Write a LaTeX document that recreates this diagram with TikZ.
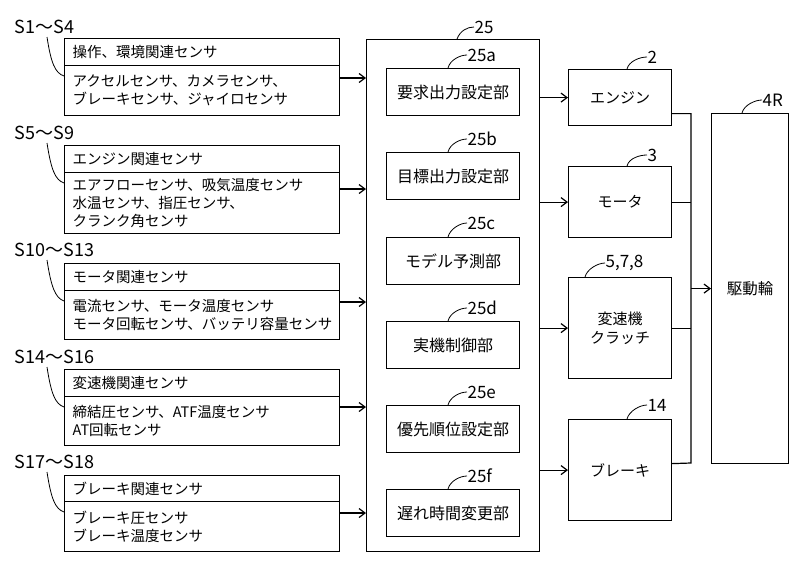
\documentclass[tikz,border=0pt]{standalone}
\usepackage{fontspec}
\setmainfont{Noto Sans CJK JP}
\usetikzlibrary{arrows.meta}
\begin{document}
\begin{tikzpicture}[x=1pt,y=-1pt,line width=1.2pt,
  box/.style={draw,rectangle,inner sep=0pt,anchor=north west},
  sbox/.style={box,minimum width=275pt,text width=259pt,align=left,font=\fontsize{14.5}{18}\selectfont},
  ibox/.style={box,minimum width=133pt,minimum height=47pt,font=\fontsize{16}{19}\selectfont},
  rbox/.style={box,minimum width=103pt,align=center,font=\fontsize{15}{19}\selectfont},
  lab/.style={inner sep=0pt,anchor=west,font=\fontsize{17}{20}\selectfont},
  slab/.style={inner sep=0pt,anchor=west,font=\fontsize{18}{21}\selectfont},
  lead/.style={line width=0.8pt},
  arr/.style={-{Straight Barb[length=6pt,width=9pt]}}]
\useasboundingbox (0,0) rectangle (800,560);

% ---- sensor groups ----
\node[slab] (sl1) at (14,27) {S1〜S4};
\node[sbox,minimum height=27pt] (h1) at (64,38) {操作、環境関連センサ};
\node[sbox,minimum height=50pt] (b1) at (64,65) {アクセルセンサ、カメラセンサ、\\ブレーキセンサ、ジャイロセンサ};
\draw[lead] ([xshift=33pt,yshift=-10pt]sl1.west) .. controls +(4,26) and +(-9,-3) .. ([yshift=-11pt]b1.north west);

\node[slab] (sl2) at (14,133) {S5〜S9};
\node[sbox,minimum height=27pt] (h2) at (64,145) {エンジン関連センサ};
\node[sbox,minimum height=61pt] (b2) at (64,172) {エアフローセンサ、吸気温度センサ\\水温センサ、指圧センサ、\\クランク角センサ};
\draw[lead] ([xshift=33pt,yshift=-10pt]sl2.west) .. controls +(4,26) and +(-9,-3) .. ([yshift=-11pt]b2.north west);

\node[slab] (sl3) at (14,250) {S10〜S13};
\node[sbox,minimum height=27pt] (h3) at (64,263) {モータ関連センサ};
\node[sbox,minimum height=49pt] (b3) at (64,290) {電流センサ、モータ温度センサ\\モータ回転センサ、バッテリ容量センサ};
\draw[lead] ([xshift=33pt,yshift=-10pt]sl3.west) .. controls +(4,26) and +(-9,-3) .. ([yshift=-11pt]b3.north west);

\node[slab] (sl4) at (14,357) {S14〜S16};
\node[sbox,minimum height=27pt] (h4) at (64,369) {変速機関連センサ};
\node[sbox,minimum height=49pt] (b4) at (64,396) {締結圧センサ、ATF温度センサ\\AT回転センサ};
\draw[lead] ([xshift=33pt,yshift=-10pt]sl4.west) .. controls +(4,26) and +(-9,-3) .. ([yshift=-11pt]b4.north west);

\node[slab] (sl5) at (14,462) {S17〜S18};
\node[sbox,minimum height=26pt] (h5) at (64,475) {ブレーキ関連センサ};
\node[sbox,minimum height=50pt] (b5) at (64,501) {ブレーキ圧センサ\\ブレーキ温度センサ};
\draw[lead] ([xshift=33pt,yshift=-10pt]sl5.west) .. controls +(4,26) and +(-9,-3) .. ([yshift=-11pt]b5.north west);

% ---- controller ----
\node[box,minimum width=173pt,minimum height=512pt] (ctrl) at (366,39) {};
\node[lab] (l25) at (474,27) {25};
\draw[lead] ([xshift=91pt]ctrl.north west) .. controls +(3,-8) and +(-7,0) .. (l25.west);

\draw[arr] ([yshift=-13pt]b1.north east) -- ([yshift=-13pt]b1.north east -| ctrl.west);
\draw[arr] ([yshift=-17pt]b2.north east) -- ([yshift=-17pt]b2.north east -| ctrl.west);
\draw[arr] ([yshift=-12pt]b3.north east) -- ([yshift=-12pt]b3.north east -| ctrl.west);
\draw[arr] ([yshift=-11pt]b4.north east) -- ([yshift=-11pt]b4.north east -| ctrl.west);
\draw[arr] ([yshift=-12pt]b5.north east) -- ([yshift=-12pt]b5.north east -| ctrl.west);

\node[ibox] (ia) at (386,68) {要求出力設定部};
\node[ibox] (ib) at (386,152) {目標出力設定部};
\node[ibox] (ic) at (386,237) {モデル予測部};
\node[ibox] (id) at (386,321) {実機制御部};
\node[ibox] (ie) at (386,405) {優先順位設定部};
\node[ibox] (if) at (386,489) {遅れ時間変更部};

\node[lab] (la) at (467,55) {25a};
\node[lab] (lb) at (467,139) {25b};
\node[lab] (lc) at (467,223) {25c};
\node[lab] (ld) at (467,308) {25d};
\node[lab] (le) at (467,392) {25e};
\node[lab] (lf) at (467,476) {25f};
\foreach \b/\l in {ia/la,ib/lb,ic/lc,id/ld,ie/le,if/lf}{
  \draw[lead] ([xshift=62pt]\b.north west) .. controls +(2,-8) and +(-7,0) .. (\l.west);
}

% ---- actuators ----
\node[rbox,minimum height=56pt] (eng) at (568,69) {エンジン};
\node[rbox,minimum height=71pt] (mot) at (568,166) {モータ};
\node[rbox,minimum height=101pt] (tra) at (568,277) {変速機\\クラッチ};
\node[rbox,minimum height=101pt] (brk) at (568,419) {ブレーキ};

\node[lab] (l2) at (647,57) {2};
\node[lab] (l3) at (647,155) {3};
\node[lab] (l578) at (605,263) {5,7,8};
\node[lab] (l14) at (647,405) {14};
\draw[lead] ([xshift=59pt]eng.north west) .. controls +(2,-8) and +(-7,0) .. (l2.west);
\draw[lead] ([xshift=59pt]mot.north west) .. controls +(2,-8) and +(-7,0) .. (l3.west);
\draw[lead] ([xshift=17pt]tra.north west) .. controls +(2,-8) and +(-7,0) .. (l578.west);
\draw[lead] ([xshift=59pt]brk.north west) .. controls +(2,-8) and +(-7,0) .. (l14.west);

\draw[arr] (ctrl.east |- eng.west) -- (eng.west);
\draw[arr] (ctrl.east |- mot.west) -- (mot.west);
\draw[arr] (ctrl.east |- tra.west) -- (tra.west);
\draw[arr] (ctrl.east |- brk.west) -- (brk.west);

% ---- drive wheels ----
\node[box,minimum width=77pt,minimum height=350pt,font=\fontsize{15.5}{19}\selectfont] (drv) at (711,113) {駆動輪};
\node[lab] (l4r) at (762,100) {4R};
\draw[lead] ([xshift=31pt]drv.north west) .. controls +(2,-8) and +(-7,0) .. (l4r.west);

\coordinate (busB) at (691,463);
\draw ([yshift=-16pt]eng.east) -| (busB) -- ([yshift=6.5pt]brk.east);
\draw (mot.east) -- (mot.east -| busB);
\draw (tra.east) -- (tra.east -| busB);
\draw[arr] (drv.west -| busB) -- (drv.west);
\end{tikzpicture}
\end{document}
